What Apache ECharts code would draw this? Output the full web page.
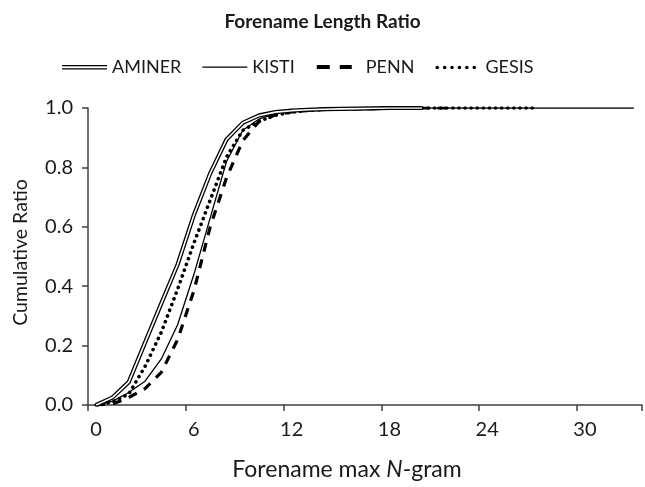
<!DOCTYPE html>
<html>
<head>
<meta charset="utf-8">
<script src="https://cdn.jsdelivr.net/npm/echarts@6/dist/echarts.min.js"></script>
<style>
html,body{margin:0;padding:0;background:#fff;}
#chart{width:645px;height:487px;}
</style>
</head>
<body>
<div id="chart"></div>
<script>
var categories = ['0','1','2','3','4','5','6','7','8','9','10','11','12','13','14','15','16','17','18','19','20','21','22','23','24','25','26','27','28','29','30','31','32','33'];
var yTicks = [0, 0.2, 0.4, 0.6, 0.8, 1.0];
var seriesNames = ['AMINER', 'KISTI', 'PENN', 'GESIS'];
var aminer = [0, 0.025, 0.077, 0.21, 0.342, 0.473, 0.64, 0.78, 0.894, 0.95, 0.975, 0.986, 0.991, 0.994, 0.996, 0.997, 0.998, 0.999, 1, 1, 1];
var kisti = [0, 0.012, 0.042, 0.08, 0.155, 0.27, 0.44, 0.63, 0.82, 0.925, 0.963, 0.98, 0.99, 0.994, 0.996, 0.997, 0.998, 0.999, 1, 1, 1, 1, 1, 1, 1, 1, 1, 1, 1, 1, 1, 1, 1, 1];
var penn = [0, 0.003, 0.025, 0.055, 0.11, 0.22, 0.385, 0.6, 0.765, 0.89, 0.955, 0.977, 0.987, 0.992, 0.995, 0.996, 0.997, 0.998, 0.999, 1, 1, 1, 1];
var gesis = [0, 0.01, 0.037, 0.13, 0.245, 0.39, 0.545, 0.69, 0.835, 0.925, 0.955, 0.976, 0.986, 0.992, 0.995, 0.997, 0.998, 0.999, 0.999, 1, 1, 1, 1, 1, 1, 1, 1, 1];

var FONT = 'Lato';
var TXT = '#1a1a1a';
var AX = '#404040';

// legend icons drawn in a 45 x 14 box (corner specks fix the box)
var box = 'M0,0h0.01v0.01h-0.01Z M44.99,13.99h0.01v0.01h-0.01Z ';
var iconAminer = 'path://' + box + 'M0,5H45V6.3H0Z M0,8.2H45V9.5H0Z';
var iconKisti = 'path://' + box + 'M0,6.5H45V7.8H0Z';
var iconPenn = 'path://' + box + 'M1,5H14V9H1Z M24,5H36V9H24Z';
var dots = '';
[1.8, 9.2, 16.6, 24, 31.4, 38.8].forEach(function (cx) {
  dots += 'M' + (cx - 1.8) + ',7.5a1.8,1.8 0 1,0 3.6,0a1.8,1.8 0 1,0 -3.6,0Z ';
});
var iconGesis = 'path://' + box + dots;

var chart = echarts.init(document.getElementById('chart'), null, {renderer: 'canvas'});
var option = {
  animation: false,
  backgroundColor: '#fff',
  title: {
    text: 'Forename Length Ratio',
    left: 'center',
    top: 7,
    textStyle: {fontFamily: FONT, fontWeight: 'bold', fontSize: 19, color: TXT}
  },
  legend: {
    left: 62,
    top: 58,
    padding: 0,
    itemWidth: 45,
    itemHeight: 14,
    itemGap: 21,
    itemStyle: {color: '#000', borderWidth: 0},
    textStyle: {fontFamily: FONT, fontSize: 18, color: TXT},
    data: [
      {name: seriesNames[0], icon: iconAminer},
      {name: seriesNames[1], icon: iconKisti},
      {name: seriesNames[2], icon: iconPenn},
      {name: seriesNames[3], icon: iconGesis}
    ]
  },
  grid: {left: 88, top: 108, width: 554, height: 297},
  xAxis: {
    type: 'category',
    data: categories,
    boundaryGap: true,
    name: 'Forename max {i|N}-gram',
    nameLocation: 'middle',
    nameGap: 53,
    nameTextStyle: {fontFamily: FONT, fontSize: 23, color: TXT, padding: [0, 36, 0, 0],
      rich: {i: {fontFamily: FONT, fontSize: 23, fontStyle: 'italic', color: TXT}}},
    axisLine: {lineStyle: {color: AX, width: 1.5}},
    axisTick: {show: true, interval: 5, length: 6, alignWithLabel: false, lineStyle: {color: AX, width: 1.5}},
    axisLabel: {interval: 5, margin: 15, fontFamily: FONT, fontSize: 20, color: TXT},
    splitLine: {show: false}
  },
  yAxis: {
    type: 'value',
    min: yTicks[0],
    max: yTicks[yTicks.length - 1],
    interval: 0.2,
    name: 'Cumulative Ratio',
    nameLocation: 'middle',
    nameGap: 57,
    nameRotate: 90,
    nameTextStyle: {fontFamily: FONT, fontSize: 19.5, color: TXT, padding: [0, 0, 0, 8]},
    axisLine: {show: true, lineStyle: {color: AX, width: 1.5}},
    axisTick: {show: true, length: 6, lineStyle: {color: AX, width: 1.5}},
    axisLabel: {margin: 15, fontFamily: FONT, fontSize: 20, color: TXT, formatter: function (v) { return v.toFixed(1); }},
    splitLine: {show: false}
  },
  series: [
    {name: seriesNames[1], type: 'line', data: kisti, symbol: 'none', z: 2, color: '#000',
      lineStyle: {color: '#000', width: 1.3}},
    {name: seriesNames[2], type: 'line', data: penn, symbol: 'none', z: 3, color: '#000',
      lineStyle: {color: '#000', width: 3.2, type: [9, 8]}},
    {name: seriesNames[3], type: 'line', data: gesis, symbol: 'none', z: 4, color: '#000',
      lineStyle: {color: '#000', width: 3.6, type: [0.1, 6], cap: 'round'}},
    {name: seriesNames[0], type: 'line', data: aminer, symbol: 'none', z: 5, color: '#000',
      lineStyle: {color: '#000', width: 4.2}},
    {name: seriesNames[0] + ' ', type: 'line', data: aminer, symbol: 'none', z: 6, color: '#fff',
      lineStyle: {color: '#fff', width: 1.6}, silent: true}
  ]
};
chart.setOption(option);
</script>
</body>
</html>
